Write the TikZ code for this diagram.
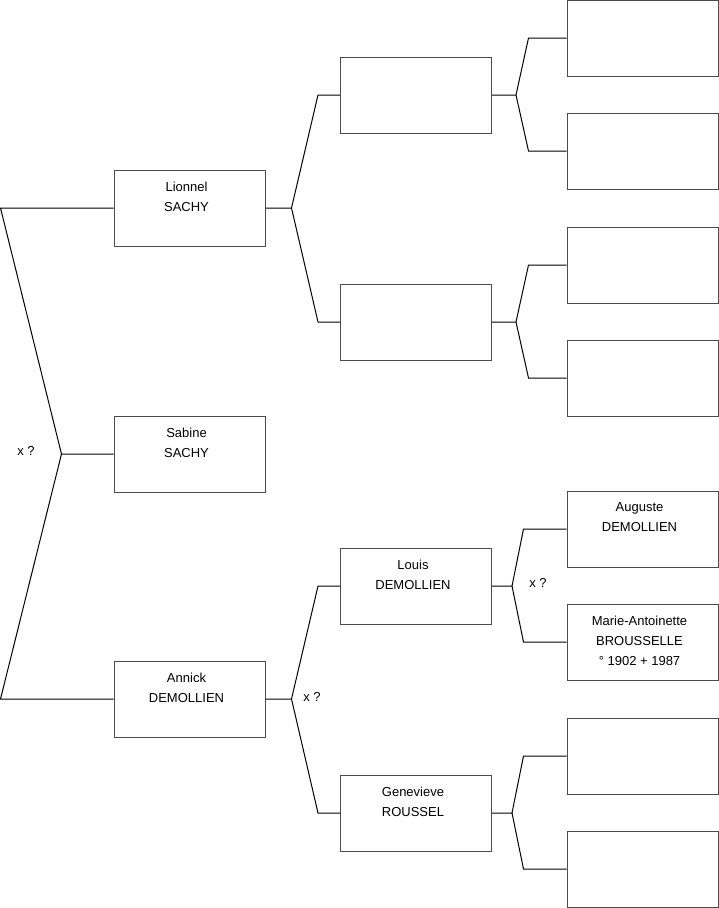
\documentclass[tikz,border=0pt]{standalone}
\usepackage{fontspec}
\setmainfont{Liberation Sans}
\usetikzlibrary{positioning}
\newcommand{\who}[1]{\hspace*{-6pt}\parbox[t][52pt]{145pt}{\centering #1}}
\tikzset{
  person/.style={draw=black!70, line width=1pt, minimum width=151pt, minimum height=76pt, inner sep=0pt, font=\fontsize{13}{20}\selectfont},
  link/.style={draw=black, line width=1pt},
  union/.style={font=\fontsize{13}{20}\selectfont}
}
\begin{document}
\begin{tikzpicture}[x=1pt,y=-1pt]
    \useasboundingbox (0,0) rectangle (719,908);
    % first generation
    \node [person] (lionnel) at (189.5,208) {\who{Lionnel\\SACHY}};
    \node [person] (sabine) at (189.5,454) {\who{Sabine\\SACHY}};
    \node [person] (annick) at (189.5,699) {\who{Annick\\DEMOLLIEN}};
    % second generation
    \node [person] (p1) at (416,95) {};
    \node [person] (p2) at (416,322) {};
    \node [person] (louis) at (416,586) {\who{Louis\\DEMOLLIEN}};
    \node [person] (genevieve) at (416,813) {\who{Genevieve\\ROUSSEL}};
    % third generation
    \node [person] (g1) at (642.5,38) {};
    \node [person] (g2) at (642.5,151) {};
    \node [person] (g3) at (642.5,265) {};
    \node [person] (g4) at (642.5,378) {};
    \node [person] (auguste) at (642.5,529) {\who{Auguste\\DEMOLLIEN}};
    \node [person] (marie) at (642.5,642) {\who{Marie-Antoinette\\BROUSSELLE\\\textdegree{} 1902 + 1987}};
    \node [person] (g7) at (642.5,756) {};
    \node [person] (g8) at (642.5,869) {};
    % forks
    \draw [link] (sabine.west) -- ++(-52,0) coordinate (js) -- ([xshift=-113pt]lionnel.west) -- (lionnel.west);
    \draw [link] (js) -- ([xshift=-113pt]annick.west) -- (annick.west);
    \draw [link] (lionnel.east) -- ++(26,0) coordinate (jl) -- ([xshift=-22pt]p1.west) -- (p1.west);
    \draw [link] (jl) -- ([xshift=-22pt]p2.west) -- (p2.west);
    \draw [link] (annick.east) -- ++(26,0) coordinate (ja) -- ([xshift=-22pt]louis.west) -- (louis.west);
    \draw [link] (ja) -- ([xshift=-22pt]genevieve.west) -- (genevieve.west);
    \draw [link] (p1.east) -- ++(24,0) coordinate (jp1) -- ([xshift=-38pt]g1.west) -- (g1.west);
    \draw [link] (jp1) -- ([xshift=-38pt]g2.west) -- (g2.west);
    \draw [link] (p2.east) -- ++(24,0) coordinate (jp2) -- ([xshift=-38pt]g3.west) -- (g3.west);
    \draw [link] (jp2) -- ([xshift=-38pt]g4.west) -- (g4.west);
    \draw [link] (louis.east) -- ++(20,0) coordinate (jlo) -- ([xshift=-43pt]auguste.west) -- (auguste.west);
    \draw [link] (jlo) -- ([xshift=-43pt]marie.west) -- (marie.west);
    \draw [link] (genevieve.east) -- ++(20,0) coordinate (jg) -- ([xshift=-43pt]g7.west) -- (g7.west);
    \draw [link] (jg) -- ([xshift=-43pt]g8.west) -- (g8.west);
    % unions
    \node [union] (u1) at (26,451) {x ?};
    \node [union] (u2) at (312,697) {x ?};
    \node [union] (u3) at (538,583) {x ?};
\end{tikzpicture}
\end{document}
